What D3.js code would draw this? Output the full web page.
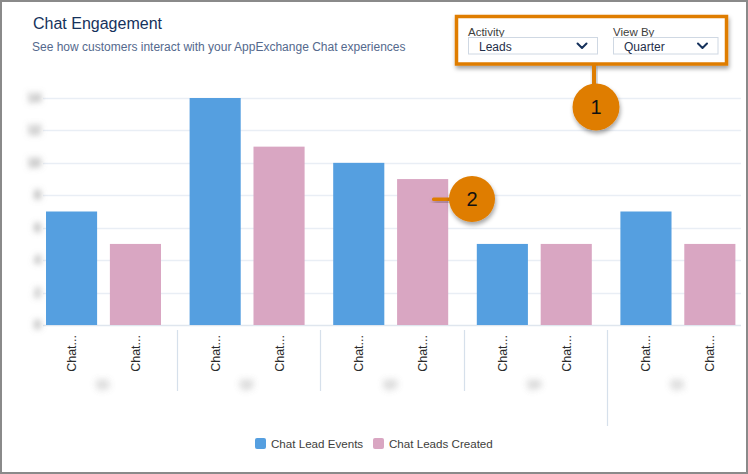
<!DOCTYPE html>
<html>
<head>
<meta charset="utf-8">
<script src="https://cdn.jsdelivr.net/npm/d3@7/dist/d3.min.js"></script>
<style>
  html, body { margin: 0; padding: 0; background: #fff; }
  svg { display: block; }
  text { font-family: "Liberation Sans", Arial, Helvetica, sans-serif; }
</style>
</head>
<body>
<svg id="chart" width="748" height="474"></svg>
<script>
// ---- data ----
const groups = ["Q1 2021", "Q2 2021", "Q3 2021", "Q4 2021", "Q1 2022"];
const seriesNames = ["Chat Lead Events", "Chat Leads Created"];
const chatLeadEvents = [7, 14, 10, 5, 7];
const chatLeadsCreated = [5, 11, 9, 5, 5];
const yTicks = [0, 2, 4, 6, 8, 10, 12, 14];
const activityOptions = ["Leads"];
const viewByOptions = ["Quarter"];
const colors = ["#559fe0", "#d9a6c2"];
const callouts = ["1", "2"];

const W = 748, H = 474;
const svg = d3.select("#chart");
const orange = "#df7d00";

const defs = svg.append("defs");
const blur = defs.append("filter").attr("id", "blur").attr("x", "-60%").attr("y", "-60%").attr("width", "220%").attr("height", "220%");
blur.append("feGaussianBlur").attr("stdDeviation", 3.2);
const blur2 = defs.append("filter").attr("id", "blur2").attr("x", "-60%").attr("y", "-100%").attr("width", "220%").attr("height", "300%");
blur2.append("feGaussianBlur").attr("stdDeviation", 3.5);
const shadow = defs.append("filter").attr("id", "shadow").attr("x", "-30%").attr("y", "-30%").attr("width", "160%").attr("height", "170%");
shadow.append("feDropShadow").attr("dx", 1).attr("dy", 3).attr("stdDeviation", 2).attr("flood-color", "#000").attr("flood-opacity", 0.35);

// frame
svg.append("rect").attr("x", 1).attr("y", 1).attr("width", W - 2).attr("height", H - 2)
  .attr("fill", "#fff").attr("stroke", "#8a8a8a").attr("stroke-width", 2);

// title
svg.append("text").attr("x", 33).attr("y", 29).attr("font-size", 16).attr("fill", "#16325c").text("Chat Engagement");
svg.append("text").attr("x", 32).attr("y", 51).attr("font-size", 12).attr("fill", "#54698d")
  .text("See how customers interact with your AppExchange Chat experiences");

// scales
const y = d3.scaleLinear().domain([0, 14]).range([325, 98]);
const x0 = d3.scaleBand().domain(groups).range([33, 33 + 143.6 * groups.length]).padding(0);
const x1 = d3.scaleBand().domain(seriesNames).range([13, 128]).paddingInner(0.2).paddingOuter(0);

// gridlines
const grid = svg.append("g");
grid.selectAll("line").data(yTicks).join("line")
  .attr("x1", 43).attr("x2", 741)
  .attr("y1", d => Math.round(y(d)) + 0.5).attr("y2", d => Math.round(y(d)) + 0.5)
  .attr("stroke", d => d === 0 ? "#dfe6ee" : "#e9eef5").attr("stroke-width", 1.5);

// blurred y labels
svg.append("g").attr("filter", "url(#blur)")
  .selectAll("text").data(yTicks).join("text")
  .attr("x", 41).attr("y", d => y(d) + 4).attr("text-anchor", "end")
  .attr("font-size", 12).attr("font-weight", "bold").attr("fill", "#8a8a8a").text(d => d);

// bars
const barData = groups.flatMap((g, i) => [
  { g, s: seriesNames[0], v: chatLeadEvents[i], c: colors[0] },
  { g, s: seriesNames[1], v: chatLeadsCreated[i], c: colors[1] }
]);
svg.append("g").selectAll("rect").data(barData).join("rect")
  .attr("x", d => x0(d.g) + x1(d.s))
  .attr("width", x1.bandwidth())
  .attr("y", d => y(d.v))
  .attr("height", d => y(0) - y(d.v))
  .attr("fill", d => d.c);

// x tick labels (truncated series names)
svg.append("g").selectAll("text").data(barData).join("text")
  .attr("transform", d => `translate(${x0(d.g) + x1(d.s) + x1.bandwidth() / 2},335) rotate(-90)`)
  .attr("text-anchor", "end").attr("dy", "0.36em")
  .attr("font-size", 12.5).attr("fill", "#2b2b2b")
  .text(d => d.s.slice(0, 4) + "...");

// group separators
svg.append("g").selectAll("line").data(groups.slice(1)).join("line")
  .attr("x1", d => Math.round(x0(d)) + 0.5).attr("x2", d => Math.round(x0(d)) + 0.5)
  .attr("y1", 330).attr("y2", (d, i) => i === groups.length - 2 ? 426 : 391)
  .attr("stroke", "#d6e0eb").attr("stroke-width", 1.2);

// blurred group labels
svg.append("g").attr("filter", "url(#blur2)").attr("opacity", 0.8)
  .selectAll("text").data(groups).join("text")
  .attr("x", d => x0(d) + 70).attr("y", 388).attr("text-anchor", "middle")
  .attr("font-size", 10).attr("font-weight", "bold").attr("fill", "#8f8f8f").text(d => d.slice(0, 2));

// legend
const legend = svg.append("g");
const legX = [255, 373];
seriesNames.forEach((s, i) => {
  legend.append("rect").attr("x", legX[i]).attr("y", 438).attr("width", 11).attr("height", 11)
    .attr("rx", 2).attr("fill", colors[i]);
  legend.append("text").attr("x", legX[i] + 16).attr("y", 447.5).attr("font-size", 11.6)
    .attr("fill", "#3e3e3c").text(s);
});

// controls box
const ctrl = svg.append("g");
ctrl.append("rect").attr("x", 456.5).attr("y", 16.5).attr("width", 270).attr("height", 47.5)
  .attr("fill", "#fff").attr("stroke", orange).attr("stroke-width", 3.5).attr("filter", "url(#shadow)");
function dropdown(x, w, label, value) {
  ctrl.append("text").attr("x", x).attr("y", 35.5).attr("font-size", 11.5).attr("fill", "#3e3e3c").text(label);
  ctrl.append("rect").attr("x", x + 0.5).attr("y", 37.5).attr("width", w).attr("height", 16.5)
    .attr("fill", "#fff").attr("stroke", "#cfd8e3").attr("stroke-width", 1);
  ctrl.append("text").attr("x", x + 11).attr("y", 50.5).attr("font-size", 12).attr("fill", "#1f2f4a").text(value);
  const cx = x + w - 15;
  ctrl.append("path").attr("d", `M${cx - 4.5},43.5 L${cx},48 L${cx + 4.5},43.5`)
    .attr("fill", "none").attr("stroke", "#16325c").attr("stroke-width", 2).attr("stroke-linecap", "round").attr("stroke-linejoin", "round");
}
dropdown(468, 129, "Activity", activityOptions[0]);
dropdown(613, 104.5, "View By", viewByOptions[0]);

// callout 1
const c1 = svg.append("g");
c1.append("rect").attr("x", 592).attr("y", 64).attr("width", 4).attr("height", 22).attr("fill", orange).attr("filter", "url(#shadow)");
c1.append("circle").attr("cx", 596).attr("cy", 107).attr("r", 23.5).attr("fill", orange).attr("filter", "url(#shadow)");
c1.append("text").attr("x", 596).attr("y", 114).attr("text-anchor", "middle").attr("font-size", 20).attr("fill", "#111").text(callouts[0]);

// callout 2
const c2 = svg.append("g");
c2.append("rect").attr("x", 432).attr("y", 197.5).attr("width", 20).attr("height", 3.5).attr("rx", 1.5).attr("fill", orange).attr("filter", "url(#shadow)");
c2.append("circle").attr("cx", 472).attr("cy", 199).attr("r", 23).attr("fill", orange).attr("filter", "url(#shadow)");
c2.append("text").attr("x", 472).attr("y", 206).attr("text-anchor", "middle").attr("font-size", 20).attr("fill", "#111").text(callouts[1]);
</script>
</body>
</html>
